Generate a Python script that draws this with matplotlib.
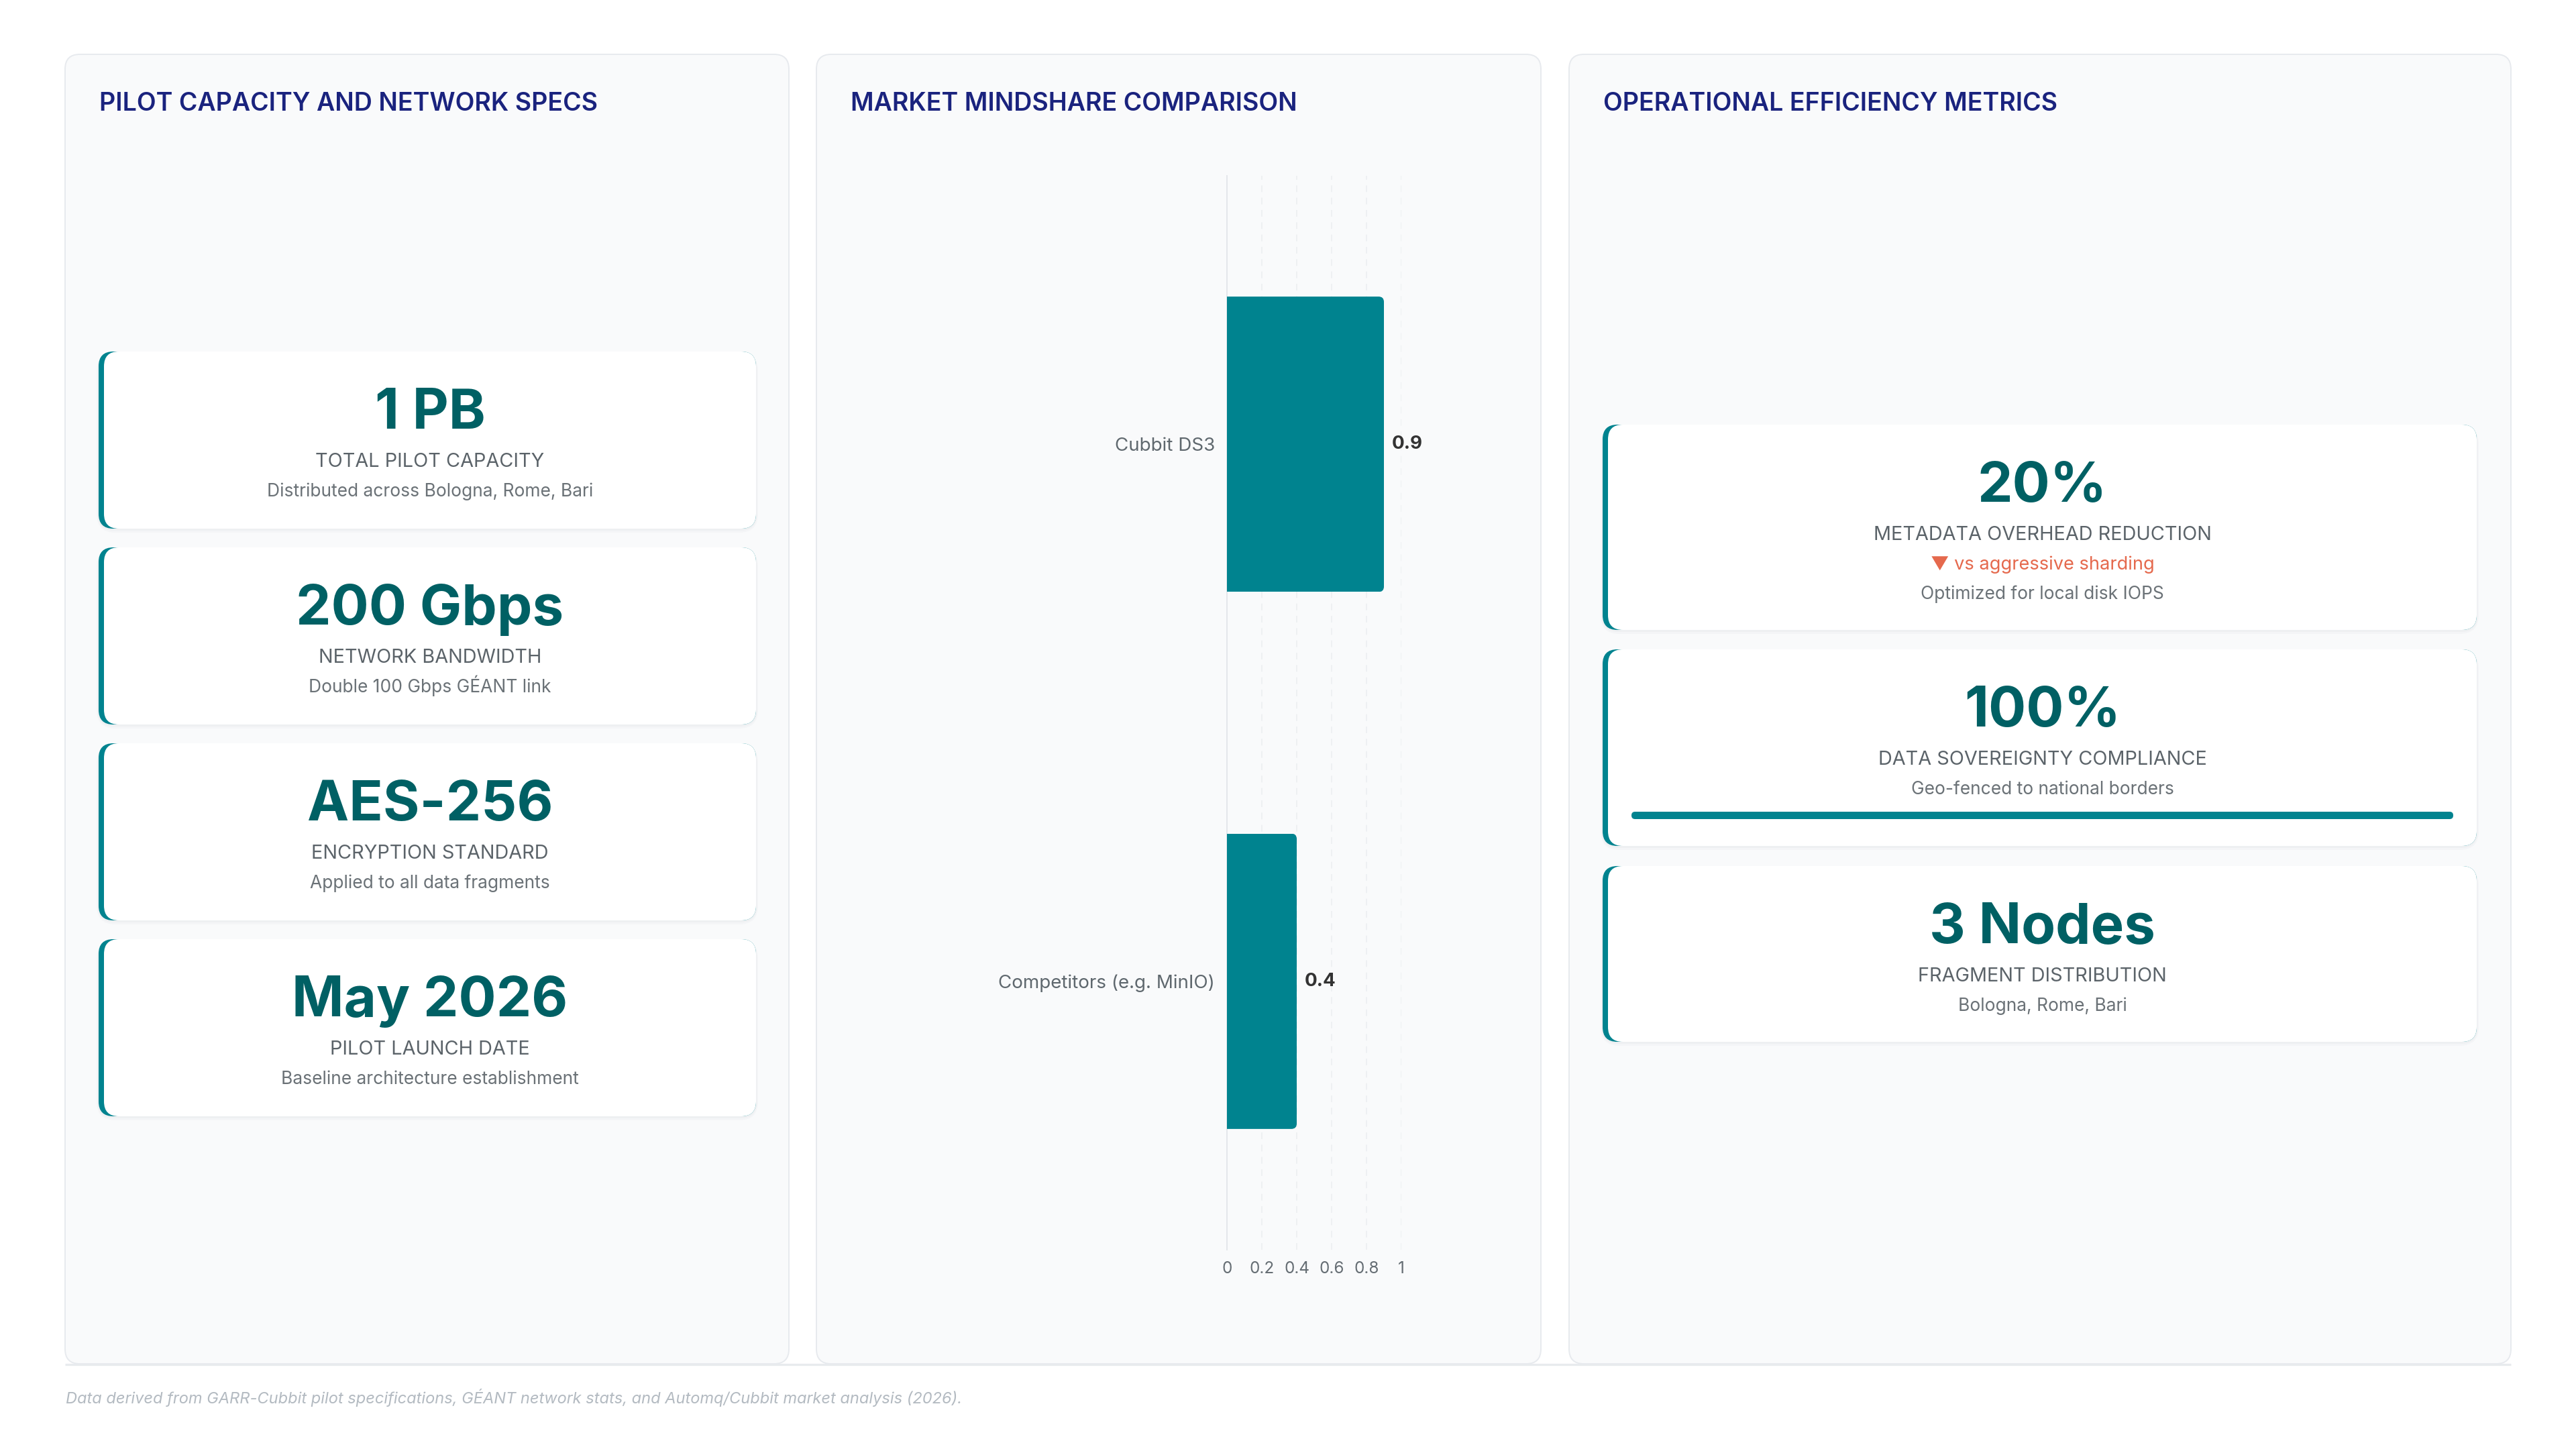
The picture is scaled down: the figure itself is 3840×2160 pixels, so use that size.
import matplotlib
matplotlib.use('Agg')
import matplotlib.pyplot as plt
from matplotlib.patches import FancyBboxPatch
import matplotlib.ticker as mticker

plt.rcParams['font.family'] = ['Inter', 'DejaVu Sans']

# ---------------- data ----------------
panel_titles = ["PILOT CAPACITY AND NETWORK SPECS",
                "MARKET MINDSHARE COMPARISON",
                "OPERATIONAL EFFICIENCY METRICS"]

spec_values = ["1 PB", "200 Gbps", "AES-256", "May 2026"]
spec_labels = ["TOTAL PILOT CAPACITY", "NETWORK BANDWIDTH",
               "ENCRYPTION STANDARD", "PILOT LAUNCH DATE"]
spec_subs = ["Distributed across Bologna, Rome, Bari",
             "Double 100 Gbps GÉANT link",
             "Applied to all data fragments",
             "Baseline architecture establishment"]

mind_categories = ["Cubbit DS3", "Competitors (e.g. MinIO)"]
mind_values = [0.9, 0.4]
mind_ticks = [0, 0.2, 0.4, 0.6, 0.8, 1.0]
mind_tick_labels = ["0", "0.2", "0.4", "0.6", "0.8", "1"]

eff_values = ["20%", "100%", "3 Nodes"]
eff_labels = ["METADATA OVERHEAD REDUCTION", "DATA SOVEREIGNTY COMPLIANCE",
              "FRAGMENT DISTRIBUTION"]
eff_trends = ["▼ vs aggressive sharding", None, None]
eff_subs = ["Optimized for local disk IOPS", "Geo-fenced to national borders",
            "Bologna, Rome, Bari"]
eff_progress = [None, 100, None]

footer_text = ("Data derived from GARR-Cubbit pilot specifications, GÉANT network stats, "
               "and Automq/Cubbit market analysis (2026).")

# ---------------- style ----------------
TEAL = '#00838F'
DARK_TEAL = '#006064'
NAVY = '#1A237E'
LABEL_C = '#5B6369'
SUB_C = '#6B7277'
TREND_C = '#E5694D'
PANEL_FC = '#F9FAFB'
PANEL_EC = '#E7EAEE'

W, H = 3840, 2160
fig = plt.figure(figsize=(W / 100, H / 100), dpi=100)
fig.patch.set_facecolor('white')
bg = fig.add_axes([0, 0, 1, 1])
bg.set_xlim(0, W)
bg.set_ylim(H, 0)
bg.axis('off')


def rrect(x0, y0, x1, y1, r, fc, ec='none', lw=0, z=1, alpha=1.0):
    p = FancyBboxPatch((x0, y0), x1 - x0, y1 - y0,
                       boxstyle=f"round,pad=0,rounding_size={r}",
                       fc=fc, ec=ec, lw=lw, zorder=z, alpha=alpha)
    bg.add_patch(p)
    return p


# panels
PANEL_Y0, PANEL_Y1 = 81, 2033
panels_x = [(97, 1176), (1217, 2297), (2339, 3743)]
bg.plot([97, 3743], [2034, 2034], color='#E8EBEE', lw=2.4, zorder=0.5,
        solid_capstyle='butt')
for (x0, x1), title in zip(panels_x, panel_titles):
    rrect(x0, PANEL_Y0, x1, PANEL_Y1, 22, PANEL_FC, PANEL_EC, 1.4, z=1)
    bg.text(x0 + 51, 165, title, fontsize=27.0, fontweight='semibold',
            color=NAVY, ha='left', va='baseline', zorder=5)


def card(x0, y0, x1, y1, big, label, lines, progress=None):
    r = 22
    # soft shadow
    for k, a in [(6, 0.018), (3, 0.022)]:
        rrect(x0 - k / 2, y0 + 1, x1 + k / 2, y1 + k, r + k, '#1F2937', z=2,
              alpha=a)
    rrect(x0, y0, x1, y1, r, TEAL, z=2.2)
    rrect(x0 + 8, y0, x1, y1, r, 'white', z=2.4)
    cx = (x0 + 8 + x1) / 2
    yb = y0 + 115
    bg.text(cx, yb, big, fontsize=60, fontweight='bold', color=DARK_TEAL,
            ha='center', va='baseline', zorder=5)
    yb += 57
    bg.text(cx, yb, label, fontsize=20.8, color=LABEL_C, ha='center',
            va='baseline', zorder=5)
    for txt, col, fs in lines:
        yb += 44
        bg.text(cx, yb, txt, fontsize=fs, color=col, ha='center',
                va='baseline', zorder=5)
    if progress is not None:
        top = yb + 26
        px0, px1 = x0 + 43, x1 - 35
        rrect(px0, top, px1, top + 11, 5.5, '#E6EAED', z=4)
        rrect(px0, top, px0 + (px1 - px0) * progress / 100.0, top + 11, 5.5,
              TEAL, z=4.2)


# panel 1 cards
spec_tops = [524, 816, 1108, 1400]
for t, v, l, s in zip(spec_tops, spec_values, spec_labels, spec_subs):
    card(147, t, 1127, t + 264, v, l, [(s, SUB_C, 19.0)])

# panel 3 cards
eff_tops = [633, 968, 1291]
eff_heights = [306, 293, 262]
for t, h, v, l, tr, s, pg in zip(eff_tops, eff_heights, eff_values, eff_labels,
                                 eff_trends, eff_subs, eff_progress):
    lines = []
    if tr:
        lines.append((tr, TREND_C, 19.6))
    lines.append((s, SUB_C, 19.0))
    card(2389, t, 3692, t + h, v, l, lines, progress=pg)

# ---------------- bar chart ----------------
AX_X0, AX_X1, AX_Y0, AX_Y1 = 1829, 2089, 262, 1863
ax = fig.add_axes([AX_X0 / W, 1 - AX_Y1 / H, (AX_X1 - AX_X0) / W,
                   (AX_Y1 - AX_Y0) / H])
ax.set_facecolor('none')
ax.set_zorder(10)
ypos = list(range(len(mind_categories)))
bar_h = 0.55
bars = ax.barh(ypos, mind_values, height=bar_h, color=TEAL, zorder=3)
ax.set_xlim(0, 1)
ax.set_ylim(len(mind_categories) - 0.5, -0.5)

# rounded right ends (clip)
px_per_x = (AX_X1 - AX_X0) / 1.0
px_per_y = (AX_Y1 - AX_Y0) / len(mind_categories)
rx = 8 / px_per_x
ry = 8 / px_per_y
for b in bars:
    clip = FancyBboxPatch((-0.2, b.get_y()), b.get_width() + 0.2, b.get_height(),
                          boxstyle=f"round,pad=0,rounding_size={rx}",
                          mutation_aspect=ry / rx, transform=ax.transData)
    b.set_clip_path(clip)

for y, v in zip(ypos, mind_values):
    ax.annotate(f"{v:g}", (v, y), xytext=(8.5, 0), textcoords='offset points',
                ha='left', va='center', fontsize=20, fontweight='bold',
                color='#333333', zorder=6)

ax.set_yticks(ypos)
ax.set_yticklabels(mind_categories)
ax.xaxis.set_major_locator(mticker.FixedLocator(mind_ticks))
ax.xaxis.set_major_formatter(mticker.FixedFormatter(mind_tick_labels))
ax.tick_params(axis='x', length=0, pad=12, labelsize=17.5, labelcolor='#666E74')
ax.tick_params(axis='y', length=0, pad=13, labelsize=20, labelcolor='#5F686E')
ax.set_axisbelow(True)
ax.grid(axis='x', color='#ECEEF1', lw=1.2, linestyle=(0, (6, 5)))
ax.grid(axis='y', visible=False)
for s in ['top', 'right', 'bottom']:
    ax.spines[s].set_visible(False)
ax.spines['left'].set_color('#E4E7EB')
ax.spines['left'].set_linewidth(1.4)

# footer
bg.text(98, 2092, footer_text, fontsize=17.0, style='italic', color='#B3BAC1',
        ha='left', va='baseline')

fig.savefig('out.png', dpi=100, facecolor='white')
